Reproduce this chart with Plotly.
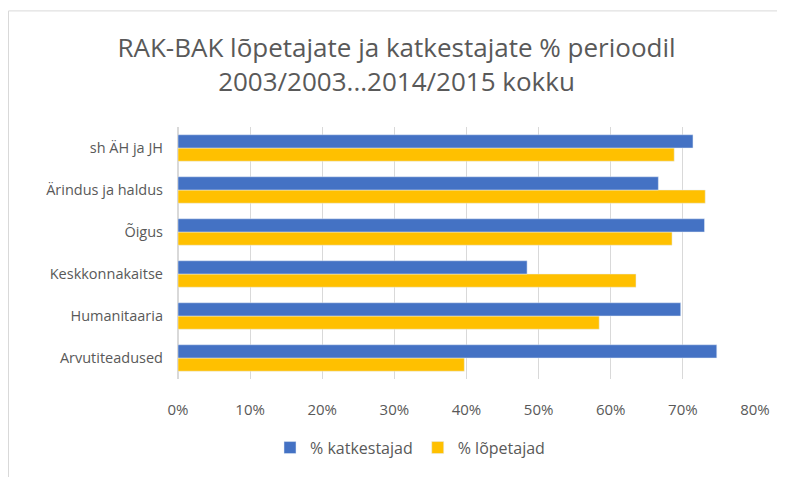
import plotly.graph_objects as go

categories = ["Arvutiteadused", "Humanitaaria", "Keskkonnakaitse", "Õigus", "Ärindus ja haldus", "sh ÄH ja JH"]
katkestajad = [0.747, 0.697, 0.484, 0.730, 0.666, 0.714]
lopetajad = [0.397, 0.584, 0.635, 0.685, 0.731, 0.688]
xticks = [0, 0.1, 0.2, 0.3, 0.4, 0.5, 0.6, 0.7, 0.8]
xtick_labels = ["0%", "10%", "20%", "30%", "40%", "50%", "60%", "70%", "80%"]

FONT = "Open Sans"
GREY = "#595959"

W, H = 777, 469
L, R, T, B = 170, 30, 119, 96
PW, PH = W - L - R, H - T - B

fig = go.Figure()
fig.add_trace(go.Bar(y=categories, x=lopetajad, orientation="h", name="% lõpetajad",
                     marker=dict(color="#FFC000")))
fig.add_trace(go.Bar(y=categories, x=katkestajad, orientation="h", name="% katkestajad",
                     marker=dict(color="#4472C4")))

fig.update_layout(
    width=W, height=H,
    margin=dict(l=L, r=R, t=T, b=B),
    paper_bgcolor="white", plot_bgcolor="white",
    barmode="group", bargap=0.37, bargroupgap=0,
    title=dict(text="RAK-BAK lõpetajate ja katkestajate % perioodil<br>2003/2003...2014/2015 kokku",
               x=0.5, xanchor="center", y=1 - 49 / H, yanchor="middle",
               font=dict(family=FONT, size=26, color=GREY)),
    font=dict(family=FONT, size=14, color=GREY),
    legend=dict(orientation="h", x=(262 - L) / PW, xanchor="left", y=-0.205, yanchor="top",
                traceorder="reversed", font=dict(size=16, color=GREY),
                itemwidth=30),
    showlegend=True,
)
fig.update_xaxes(range=[0, 0.8], tickvals=xticks, ticktext=xtick_labels,
                 showgrid=True, gridcolor="#D9D9D9", gridwidth=1, automargin=False,
                 zeroline=True, zerolinecolor="#D9D9D9", showline=False, ticks="",
                 ticklabelstandoff=20,
                 tickfont=dict(size=15, color=GREY))
fig.update_yaxes(showgrid=False, showline=False, ticks="", automargin=False,
                 ticklabelstandoff=14,
                 tickfont=dict(size=14.5, color=GREY))

fig.add_shape(type="rect", xref="paper", yref="paper",
              x0=(0.5 - L) / PW, x1=1.2, y0=-0.6, y1=(H - B - 2) / PH,
              line=dict(color="#D9D9D9", width=1))

fig.write_html("out.html")
